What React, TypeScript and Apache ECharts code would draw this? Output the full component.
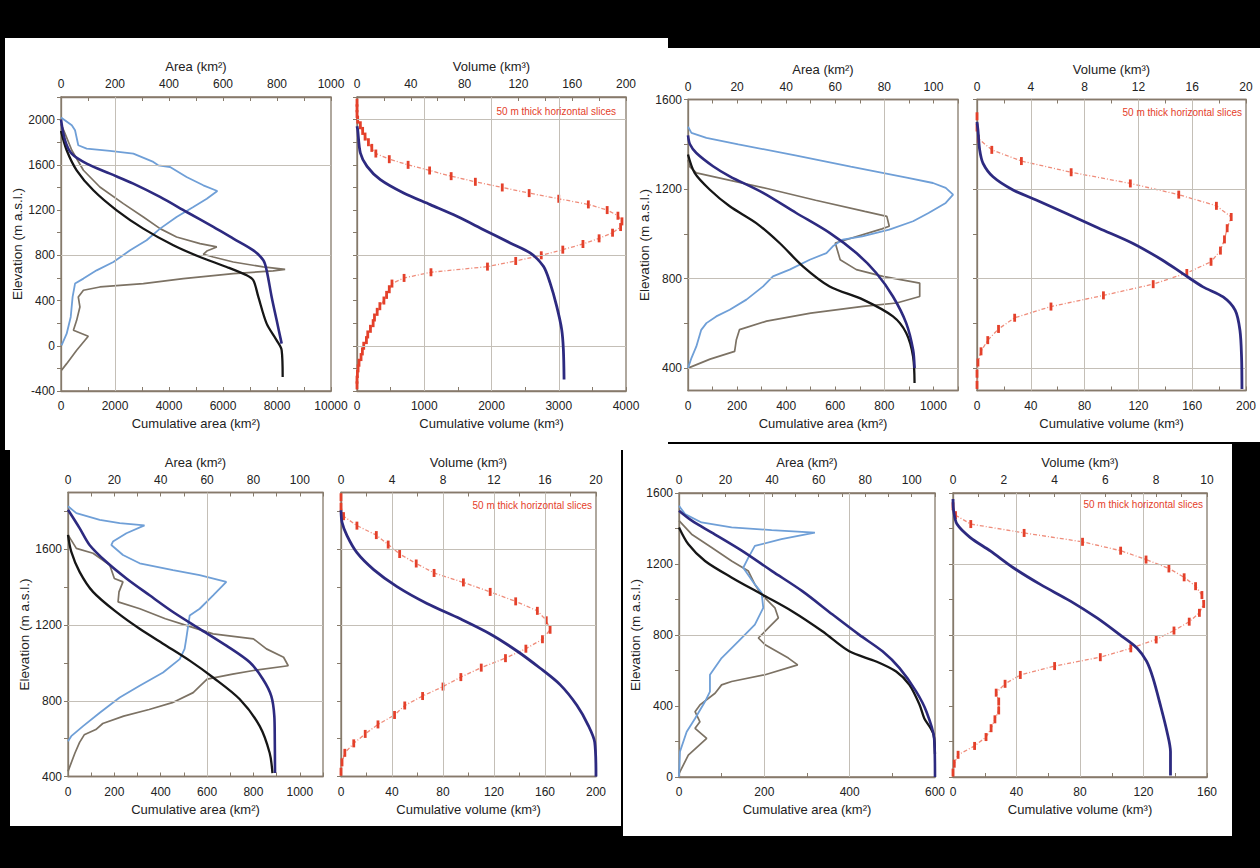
import React, { useEffect, useRef } from "react";
import * as echarts from "echarts";

// ---------------- DATA ----------------
// Panel 1 (top-left)
const p1AreaLabels = [0, 200, 400, 600, 800, 1000];
const p1CumAreaLabels = [0, 2000, 4000, 6000, 8000, 10000];
const p1ElevLabels = [-400, 0, 400, 800, 1200, 1600, 2000];
const p1VolLabels = [0, 40, 80, 120, 160, 200];
const p1CumVolLabels = [0, 1000, 2000, 3000, 4000];

const p1BlueElev = [2018, 1950, 1906, 1773, 1744, 1723, 1699, 1626, 1596, 1581, 1493, 1419, 1369, 1301, 1228, 1139, 1036, 933, 844, 741, 667, 594, 550, 432, 255, 107, 4];
const p1BlueArea = [0, 40, 52, 64, 95, 181, 268, 342, 360, 404, 465, 527, 579, 540, 490, 428, 367, 317, 256, 194, 132, 83, 52, 43, 36, 21, 2];
const p1BrownElev = [1960, 1876, 1729, 1552, 1404, 1257, 1139, 1036, 962, 903, 874, 838, 809, 785, 741, 697, 676, 662, 638, 594, 550, 520, 491, 432, 343, 225, 137, 84, -40, -158, -217];
const p1BrownArea = [0, 15, 40, 83, 144, 231, 305, 367, 428, 515, 577, 540, 527, 564, 638, 749, 830, 786, 638, 453, 305, 144, 83, 64, 70, 58, 46, 101, 58, 21, 2];
const p1NavyElev = [2000, 1817, 1699, 1611, 1522, 1434, 1316, 1183, 1051, 948, 844, 756, 667, 432, 225, 19];
const p1NavyCum = [0, 150, 395, 950, 1815, 2679, 3667, 4654, 5642, 6383, 7123, 7494, 7617, 7802, 7988, 8173];
const p1BlackElev = [1900, 1729, 1552, 1375, 1198, 1036, 889, 785, 697, 623, 579, 432, 196, 48, -40, -276];
const p1BlackCum = [0, 210, 580, 1198, 2062, 3049, 4160, 5148, 6136, 6877, 7123, 7309, 7617, 7988, 8173, 8210];
const p1SliceElev = [2150, 2100, 2050, 2000, 1950, 1900, 1850, 1800, 1750, 1700, 1650, 1600, 1550, 1500, 1450, 1400, 1350, 1300, 1250, 1200, 1150, 1100, 1050, 1000, 950, 900, 850, 800, 750, 700, 650, 600, 550, 500, 450, 400, 350, 300, 250, 200, 150, 100, 50, 0, -50, -100, -150, -200, -250, -300, -350];
const p1SliceVol = [0, 0, 0, 0.5, 2.5, 4.2, 6, 8.5, 11, 14, 24, 38, 54, 70, 88, 108, 128, 150, 172, 186, 194, 197, 196, 190, 180, 168, 153, 137, 118, 97, 55, 35, 26, 24, 22, 20, 17, 15, 13, 12, 10, 8, 7, 5, 4, 3, 1.5, 0.8, 0.3, 0, 0];
const p1CumVolElev = [1941, 1912, 1705, 1587, 1469, 1351, 1248, 1145, 1027, 909, 821, 703, 556, 349, 143, -34, -299];
const p1CumVol = [0, 10, 50, 149, 347, 693, 1089, 1485, 1881, 2277, 2574, 2772, 2871, 2970, 3044, 3069, 3079];

// Panel 2 (top-right)
const p2AreaLabels = [0, 20, 40, 60, 80, 100];
const p2CumAreaLabels = [0, 200, 400, 600, 800, 1000];
const p2ElevLabels = [400, 800, 1200, 1600];
const p2VolLabels = [0, 4, 8, 12, 16, 20];
const p2CumVolLabels = [0, 40, 80, 120, 160, 200];

const p2BlueElev = [1478, 1451, 1429, 1400, 1350, 1300, 1250, 1227, 1205, 1175, 1138, 1093, 1056, 1019, 989, 974, 944, 914, 884, 840, 810, 765, 706, 661, 631, 601, 571, 497, 445, 400];
const p2BlueArea = [0, 1.4, 7.5, 20.5, 43.7, 66.3, 89.6, 99.8, 105, 108, 105, 98, 91.7, 82, 71, 63, 59, 56.4, 49.6, 41.4, 34.6, 30.6, 23.8, 17, 11.5, 7.5, 5.4, 3.4, 1.4, 0];
const p2BrownElev = [1330, 1300, 1272, 1200, 1150, 1100, 1078, 1034, 1022, 959, 884, 840, 810, 780, 720, 691, 676, 646, 610, 572, 527, 475, 440, 400];
const p2BrownArea = [0, 0.7, 3.4, 33, 52, 72, 81, 82, 79, 60, 62, 68.6, 79.4, 94.4, 94.4, 85, 71.3, 50, 32, 21, 19.7, 19, 9, 0];
const p2NavyElev = [1440, 1400, 1361, 1302, 1257, 1183, 1093, 1004, 914, 825, 720, 601, 482, 400];
const p2NavyCum = [0, 8, 34, 102, 170, 306, 441, 577, 686, 767, 835, 889, 917, 923];
const p2BlackElev = [1354, 1272, 1198, 1123, 1048, 959, 855, 765, 706, 631, 557, 452, 333];
const p2BlackCum = [0, 27, 88, 170, 278, 373, 468, 577, 713, 835, 889, 917, 923];
const p2SliceElev = [1525, 1475, 1425, 1375, 1325, 1275, 1225, 1175, 1125, 1075, 1025, 975, 925, 875, 825, 775, 725, 675, 625, 575, 525, 475, 425, 375, 325];
const p2SliceVol = [0, 0, 0.1, 1.1, 3.3, 7.0, 11.4, 15.0, 17.8, 18.9, 18.6, 18.4, 18.1, 17.4, 15.6, 13.1, 9.4, 5.5, 2.8, 1.6, 0.8, 0.3, 0.07, 0, 0];
const p2CumVolElev = [1500, 1464, 1375, 1315, 1255, 1196, 1151, 1091, 1024, 957, 882, 822, 763, 718, 658, 569, 449, 307];
const p2CumVol = [0, 0.7, 2, 4.5, 11.9, 26.8, 44, 66.5, 91, 116, 138, 153, 168, 183, 192, 195.5, 196.7, 197];

// Panel 3 (bottom-left)
const p3AreaLabels = [0, 20, 40, 60, 80, 100];
const p3CumAreaLabels = [0, 200, 400, 600, 800, 1000];
const p3ElevLabels = [400, 800, 1200, 1600];
const p3VolLabels = [0, 4, 8, 12, 16, 20];
const p3CumVolLabels = [0, 40, 80, 120, 160, 200];

const p3BlueElev = [1827, 1791, 1756, 1738, 1726, 1685, 1641, 1623, 1570, 1526, 1490, 1464, 1428, 1357, 1286, 1251, 1127, 1074, 1020, 949, 879, 817, 737, 666, 613, 586];
const p3BlueArea = [0, 3.6, 13.7, 22.3, 33, 25.2, 19.4, 18.7, 23.7, 30.9, 45.3, 56.8, 68.3, 62.6, 56.8, 52.5, 51, 50.3, 48.2, 41, 30.9, 22.3, 13.7, 6.5, 1.4, 0];
const p3BrownElev = [1676, 1605, 1579, 1517, 1446, 1428, 1375, 1322, 1286, 1233, 1198, 1153, 1127, 1074, 1030, 985, 960, 941, 914, 843, 790, 754, 719, 680, 648, 620, 580, 524, 427];
const p3BrownArea = [0, 3.6, 10.8, 18, 20, 23.7, 22, 21.6, 31, 42, 51, 62.6, 80, 85.6, 93, 95, 80, 71, 60, 54, 45, 35, 24, 15, 12, 7, 5, 3, 0];
const p3NavyElev = [1809, 1712, 1623, 1534, 1446, 1357, 1269, 1180, 1091, 1003, 914, 825, 719, 595, 418];
const p3NavyCum = [0, 50, 93, 165, 252, 352, 453, 568, 683, 784, 841, 877, 890, 892, 893];
const p3BlackElev = [1676, 1588, 1481, 1375, 1269, 1180, 1091, 1012, 923, 808, 666, 524, 418];
const p3BlackCum = [0, 14, 50, 108, 208, 309, 424, 525, 626, 741, 827, 870, 882];
const p3SliceElev = [1875, 1825, 1775, 1725, 1675, 1625, 1575, 1525, 1475, 1425, 1375, 1325, 1275, 1225, 1175, 1125, 1075, 1025, 975, 925, 875, 825, 775, 725, 675, 625, 575, 525, 475, 425];
const p3SliceVol = [0, 0, 0.2, 1.25, 2.77, 3.7, 4.6, 5.9, 7.3, 9.6, 11.7, 13.7, 15.4, 16.1, 16.4, 15.8, 14.5, 12.9, 11.0, 9.4, 8.0, 6.4, 5.0, 4.2, 2.9, 1.9, 1.0, 0.3, 0.08, 0];
const p3CumVolElev = [1806, 1743, 1672, 1582, 1493, 1403, 1314, 1233, 1153, 1063, 973, 884, 776, 669, 580, 400];
const p3CumVol = [0, 0.8, 4.7, 12.5, 25.6, 43.9, 67.4, 93.5, 117, 138, 156, 172, 185, 194, 199, 200];

// Panel 4 (bottom-right)
const p4AreaLabels = [0, 20, 40, 60, 80, 100];
const p4CumAreaLabels = [0, 200, 400, 600];
const p4ElevLabels = [0, 400, 800, 1200, 1600];
const p4VolLabels = [0, 2, 4, 6, 8, 10];
const p4CumVolLabels = [0, 40, 80, 120, 160];

const p4BlueElev = [1528, 1481, 1434, 1406, 1391, 1377, 1340, 1302, 1236, 1179, 1085, 1038, 953, 858, 764, 670, 576, 481, 425, 330, 255, 142, 0];
const p4BlueArea = [0, 2.6, 9.7, 22.6, 39.8, 58.4, 44, 32.6, 29.8, 27.6, 32.6, 35.5, 36.2, 32.6, 25.5, 18.3, 13.3, 13.3, 11.2, 6.9, 3.3, 0.4, 0];
const p4BrownElev = [1444, 1368, 1293, 1217, 1160, 1085, 1028, 953, 896, 858, 783, 745, 670, 632, 576, 538, 519, 472, 406, 368, 311, 274, 217, 123, 19];
const p4BrownArea = [0, 5.4, 14, 22.6, 29.8, 32.6, 35.5, 41.2, 42.7, 39.8, 34.1, 37, 47, 51, 37, 22.6, 18.3, 15.5, 9, 6.9, 9, 6.9, 11.9, 4, 0];
const p4NavyElev = [1500, 1444, 1377, 1274, 1160, 1047, 915, 802, 708, 613, 481, 368, 217, 0];
const p4NavyCum = [0, 30, 77, 148, 218, 289, 360, 422, 477, 517, 556, 580, 598, 600];
const p4BlackElev = [1406, 1311, 1217, 1123, 1028, 934, 821, 708, 651, 594, 519, 406, 330, 274, 236, 130];
const p4BlackCum = [0, 22, 61, 124, 195, 265, 336, 399, 462, 509, 540, 564, 575, 590, 597, 600];
const p4SliceElev = [1525, 1475, 1425, 1375, 1325, 1275, 1225, 1175, 1125, 1075, 1025, 975, 925, 875, 825, 775, 725, 675, 625, 575, 525, 475, 425, 375, 325, 275, 225, 175, 125, 75, 25];
const p4SliceVol = [0, 0.1, 0.7, 2.8, 5.1, 6.6, 7.6, 8.5, 9.1, 9.55, 9.8, 9.87, 9.7, 9.3, 8.7, 8.0, 7.0, 5.8, 4.0, 2.65, 2.05, 1.7, 1.8, 1.8, 1.65, 1.5, 1.3, 0.85, 0.2, 0.05, 0];
const p4CumVolElev = [1566, 1500, 1425, 1349, 1274, 1179, 1085, 991, 896, 802, 726, 651, 557, 406, 255, 142, 9];
const p4CumVol = [0, 0.4, 2.5, 10.9, 23.5, 38, 55, 74, 90.7, 105, 116, 122, 126, 130.6, 134.8, 137, 137];

const SLICE_NOTE = "50 m thick horizontal slices";

// ---------------- STYLE ----------------
const FONT = "'Liberation Sans', Arial, Helvetica, sans-serif";
const AX = "#867a6b";
const GRID_C = "#c4bfb7";
const TXT = "#222222";
const LIGHT_BLUE = "#6f9fd7";
const NAVY = "#2d2a80";
const BROWN = "#7c7264";
const BLACK = "#161616";
const RED = "#e4402a";
const RED_LINE = "#ef8c7a";

const PANELS = [
  [5, 38, 663, 412],
  [668, 48, 592, 394],
  [10, 450, 611, 376],
  [623, 444, 609, 392],
];

const steps = (a: number, b: number, s: number) => {
  const out: number[] = [];
  for (let v = a; v <= b + 1e-9; v += s) out.push(Math.round(v * 1000) / 1000);
  return out;
};
const pts = (xs: number[], ys: number[]) => xs.map((x, i) => [x, ys[i]]);

type Sub = {
  box: number[];
  y: [number, number, number[], number, number];
  top: [number, number, number[], number, string];
  bot: [number, number, number[], number, string];
  yName?: string;
  h: number[];
  v: number[];
  kind: "area" | "vol";
  d: number[][];
  note?: number[];
};

const SUBS: Sub[] = [
  {
    box: [61, 97, 270, 294], kind: "area",
    y: [-400, 2200, p1ElevLabels, 200, -400],
    top: [0, 1000, p1AreaLabels, 100, "Area (km²)"],
    bot: [0, 10000, p1CumAreaLabels, 1000, "Cumulative area (km²)"],
    yName: "Elevation (m a.s.l.)", h: [1600, 800], v: [2000],
    d: [p1BrownArea, p1BrownElev, p1BlueArea, p1BlueElev, p1BlackCum, p1BlackElev, p1NavyCum, p1NavyElev],
  },
  {
    box: [357, 97, 269, 294], kind: "vol",
    y: [-400, 2200, [], 200, -400],
    top: [0, 200, p1VolLabels, 20, "Volume (km³)"],
    bot: [0, 4000, p1CumVolLabels, 500, "Cumulative volume (km³)"],
    h: [2000, 800, 0], v: [1000, 2000, 3000],
    d: [p1SliceVol, p1SliceElev, p1CumVol, p1CumVolElev], note: [644, 106],
  },
  {
    box: [688, 99.5, 270, 291], kind: "area",
    y: [300, 1600, p2ElevLabels, 200, 400],
    top: [0, 110, p2AreaLabels, 10, "Area (km²)"],
    bot: [0, 1100, p2CumAreaLabels, 100, "Cumulative area (km²)"],
    yName: "Elevation (m a.s.l.)", h: [800, 400], v: [800],
    d: [p2BrownArea, p2BrownElev, p2BlueArea, p2BlueElev, p2BlackCum, p2BlackElev, p2NavyCum, p2NavyElev],
  },
  {
    box: [977, 99.5, 269, 291], kind: "vol",
    y: [300, 1600, [], 200, 400],
    top: [0, 20, p2VolLabels, 2, "Volume (km³)"],
    bot: [0, 200, p2CumVolLabels, 20, "Cumulative volume (km³)"],
    h: [1200, 800, 400], v: [40, 80, 120, 160],
    d: [p2SliceVol, p2SliceElev, p2CumVol, p2CumVolElev], note: [18, 107],
  },
  {
    box: [68, 492.5, 255, 284], kind: "area",
    y: [400, 1900, p3ElevLabels, 200, 400],
    top: [0, 110, p3AreaLabels, 10, "Area (km²)"],
    bot: [0, 1100, p3CumAreaLabels, 100, "Cumulative area (km²)"],
    yName: "Elevation (m a.s.l.)", h: [1200, 800], v: [600],
    d: [p3BrownArea, p3BrownElev, p3BlueArea, p3BlueElev, p3BlackCum, p3BlackElev, p3NavyCum, p3NavyElev],
  },
  {
    box: [341, 492.5, 255, 284], kind: "vol",
    y: [400, 1900, [], 200, 400],
    top: [0, 20, p3VolLabels, 2, "Volume (km³)"],
    bot: [0, 200, p3CumVolLabels, 20, "Cumulative volume (km³)"],
    h: [1600, 1200], v: [40, 80, 120, 160],
    d: [p3SliceVol, p3SliceElev, p3CumVol, p3CumVolElev], note: [668, 500],
  },
  {
    box: [679, 493, 256, 284], kind: "area",
    y: [0, 1600, p4ElevLabels, 200, 0],
    top: [0, 110, p4AreaLabels, 10, "Area (km²)"],
    bot: [0, 600, p4CumAreaLabels, 100, "Cumulative area (km²)"],
    yName: "Elevation (m a.s.l.)", h: [800], v: [200, 400],
    d: [p4BrownArea, p4BrownElev, p4BlueArea, p4BlueElev, p4BlackCum, p4BlackElev, p4NavyCum, p4NavyElev],
  },
  {
    box: [953, 493, 254, 284], kind: "vol",
    y: [0, 1600, [], 200, 0],
    top: [0, 10, p4VolLabels, 1, "Volume (km³)"],
    bot: [0, 160, p4CumVolLabels, 20, "Cumulative volume (km³)"],
    h: [1200, 800], v: [40, 80, 120],
    d: [p4SliceVol, p4SliceElev, p4CumVol, p4CumVolElev], note: [57, 499],
  },
];

function xAxisCfg(g: number, pos: "top" | "bottom", cfg: any[]) {
  const [min, max, labels, step, name] = cfg;
  return {
    type: "value", gridIndex: g, position: pos, min, max,
    name, nameLocation: "middle", nameGap: pos === "top" ? 24 : 26,
    nameTextStyle: { fontSize: 13, color: TXT, fontFamily: FONT },
    axisLine: { show: true, onZero: false, lineStyle: { color: AX, width: 1.3 } },
    axisTick: { show: true, inside: true, length: 4, lineStyle: { color: AX }, customValues: steps(min, max, step) },
    axisLabel: {
      show: true, customValues: labels, formatter: (v: number) => String(v),
      margin: pos === "top" ? 7 : 9, fontSize: 12, color: TXT, fontFamily: FONT,
    },
    splitLine: { show: false },
  };
}

function buildOption() {
  const grid: any[] = [];
  const xAxis: any[] = [];
  const yAxis: any[] = [];
  const series: any[] = [];
  const graphic: any[] = [];

  SUBS.forEach((s, g) => {
    const [l, t, w, h] = s.box;
    grid.push({ left: l, top: t, width: w, height: h, show: true, borderColor: AX, borderWidth: 1.3, backgroundColor: "transparent" });
    xAxis.push(xAxisCfg(g, "bottom", s.bot as any));
    xAxis.push(xAxisCfg(g, "top", s.top as any));
    const [ymin, ymax, ylabels, ystep, ytickStart] = s.y;
    yAxis.push({
      type: "value", gridIndex: g, min: ymin, max: ymax,
      name: s.yName || "", nameLocation: "middle", nameGap: 37,
      nameTextStyle: { fontSize: 13.5, color: TXT, fontFamily: FONT },
      axisLine: { show: true, onZero: false, lineStyle: { color: AX, width: 1.3 } },
      axisTick: { show: true, inside: false, length: 4, lineStyle: { color: AX }, customValues: steps(ytickStart, ymax, ystep) },
      axisLabel: {
        show: s.kind === "area", customValues: ylabels, formatter: (v: number) => String(v),
        margin: 6, fontSize: 12, color: TXT, fontFamily: FONT,
      },
      splitLine: { show: false },
    });
    const xb = 2 * g, xt = 2 * g + 1;
    series.push({
      type: "line", xAxisIndex: xb, yAxisIndex: g, data: [], symbol: "none", z: 1, silent: true,
      markLine: {
        silent: true, symbol: ["none", "none"], label: { show: false }, animation: false,
        lineStyle: { color: GRID_C, width: 1, type: "solid" },
        data: [...s.h.map((v) => ({ yAxis: v })), ...s.v.map((v) => ({ xAxis: v }))],
      },
    });
    const line = (xi: number, xs: number[], ys: number[], color: string, width: number, z: number, smooth: boolean) => ({
      type: "line", xAxisIndex: xi, yAxisIndex: g, data: pts(xs, ys), symbol: "none", showSymbol: false,
      smooth: smooth ? 0.3 : false,
      lineStyle: { color, width }, itemStyle: { color }, z, silent: true,
    });
    if (s.kind === "area") {
      const [brA, brE, blA, blE, bkC, bkE, nvC, nvE] = s.d;
      series.push(line(xt, brA, brE, BROWN, 1.7, 3, false));
      series.push(line(xt, blA, blE, LIGHT_BLUE, 1.8, 4, false));
      series.push(line(xb, bkC, bkE, BLACK, 2.3, 5, true));
      series.push(line(xb, nvC, nvE, NAVY, 2.6, 6, true));
    } else {
      const [sv, se, cv, ce] = s.d;
      series.push({
        type: "line", xAxisIndex: xt, yAxisIndex: g, data: pts(sv, se),
        symbol: "rect", symbolSize: [2.8, 8], showSymbol: true,
        itemStyle: { color: RED }, lineStyle: { color: RED_LINE, width: 1.3, type: [4, 2, 1, 2] }, z: 3, silent: true,
      });
      series.push(line(xb, cv, ce, NAVY, 2.8, 6, true));
      if (s.note) {
        graphic.push({
          type: "text", right: s.note[0], top: s.note[1], z: 100,
          style: { text: SLICE_NOTE, fill: RED, fontSize: 10, fontFamily: FONT },
        });
      }
    }
  });

  return {
    animation: false,
    backgroundColor: "transparent",
    grid, xAxis, yAxis, series, graphic,
  };
}

export default function App() {
  const ref = useRef<HTMLDivElement>(null);
  useEffect(() => {
    const chart = echarts.init(ref.current as HTMLDivElement, null, { renderer: "svg" });
    chart.setOption(buildOption() as any);
    return () => chart.dispose();
  }, []);
  return (
    <div style={{ position: "fixed", left: 0, top: 0, width: 1260, height: 868, background: "#000", overflow: "hidden" }}>
      {PANELS.map((p, i) => (
        <div key={i} style={{ position: "absolute", left: p[0], top: p[1], width: p[2], height: p[3], background: "#fff" }} />
      ))}
      <div ref={ref} style={{ position: "absolute", left: 0, top: 0, width: 1260, height: 868 }} />
    </div>
  );
}
